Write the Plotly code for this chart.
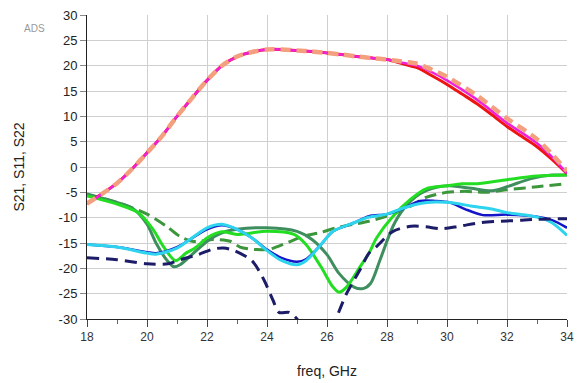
import plotly.graph_objects as go

# ---- data ----
s21_x = [18, 18.5, 19, 19.5, 20, 20.5, 21, 21.5, 22, 22.5, 23, 23.5, 24, 24.5, 25, 25.5, 26, 26.5, 27, 27.5, 28]
s21_base = [-7.2, -5.3, -3.2, -0.4, 2.8, 6.1, 10.0, 13.6, 17.1, 20.0, 21.8, 22.7, 23.2, 23.2, 23.0, 22.8, 22.5, 22.2, 21.8, 21.5, 21.2]

red_tail_x = [28.5, 29, 29.5, 30, 30.5, 31, 31.5, 32, 32.5, 33, 33.5, 34]
red_tail_y = [20.4, 19.6, 18.0, 16.3, 14.4, 12.5, 10.3, 8.0, 6.0, 4.0, 1.5, -1.3]
mag_tail_x = [28.5, 29, 29.5, 30, 31, 32, 33, 33.5, 34]
mag_tail_y = [20.6, 20.0, 18.7, 17.1, 13.3, 8.7, 4.7, 2.0, -1.3]
sal_tail_x = [28.5, 29, 29.5, 30, 31, 32, 33, 33.5, 34]
sal_tail_y = [20.8, 20.4, 19.2, 17.8, 14.1, 9.6, 5.5, 2.5, -0.8]

blue_x = [18, 19, 20, 20.3, 21, 22, 22.5, 23, 23.5, 24, 24.5, 25, 25.3, 25.8, 26.2, 26.9, 27.4, 28, 28.5, 29.1, 29.6, 30.1, 30.6, 31.2, 32, 33, 33.5, 34]
blue_y = [-15.3, -15.8, -16.8, -17.0, -15.8, -12.3, -11.5, -12.3, -14.0, -16.3, -18.0, -18.7, -18.2, -15.3, -12.7, -11.0, -9.7, -9.3, -8.3, -6.7, -6.7, -7.0, -8.3, -9.5, -9.4, -9.8, -10.5, -12.0]

cyan_x = [18, 19, 20, 20.3, 21, 22, 22.5, 23, 23.5, 24, 24.5, 25, 25.3, 25.8, 26.2, 26.9, 27.4, 28, 28.5, 29.1, 29.6, 30.1, 30.8, 31.5, 32, 33, 33.5, 34]
cyan_y = [-15.3, -15.8, -17.0, -17.2, -16.0, -12.0, -11.3, -12.3, -14.0, -16.5, -18.5, -19.3, -18.5, -15.3, -12.7, -11.0, -9.9, -9.3, -8.2, -7.2, -6.9, -7.0, -7.7, -8.3, -9.0, -9.9, -11.0, -13.5]

navy_x = [18, 19, 20, 20.7, 21.1, 21.7, 22.2, 22.55, 22.9, 23.5, 23.9, 24.2, 24.4, 24.75, 25.0, 25.3, 25.8, 26.1, 26.3, 26.65, 27.1, 27.4, 27.65, 28.2, 28.8, 29.3, 29.8, 30.4, 31.1, 31.8, 32.5, 33, 34]
navy_y = [-17.9, -18.3, -19.1, -19.1, -18.3, -17.3, -16.2, -16.0, -16.5, -18.5, -22.3, -26.3, -28.7, -28.7, -30.0, -33.0, -35.0, -33.0, -30.0, -25.0, -20.3, -17.0, -15.7, -12.7, -11.7, -11.8, -12.2, -11.7, -11.0, -10.7, -10.5, -10.3, -10.2]

lime_x = [18, 19, 19.7, 20.2, 20.55, 20.95, 21.3, 21.6, 22, 22.5, 23, 24, 24.9, 25.3, 25.8, 26.2, 26.4, 26.65, 27.1, 27.4, 27.65, 28.2, 28.8, 29.3, 30, 30.5, 31, 32, 33, 34]
lime_y = [-5.7, -7.3, -9.0, -12.3, -15.7, -18.5, -17.0, -16.0, -14.0, -12.8, -13.3, -12.7, -13.3, -15.3, -19.7, -23.7, -24.7, -23.7, -19.7, -17.0, -14.0, -9.7, -6.3, -4.3, -3.7, -3.3, -3.3, -2.5, -1.8, -1.6]

sea_x = [18, 19, 19.55, 20, 20.3, 20.65, 20.9, 21.1, 21.55, 22, 22.5, 23, 24, 25, 25.5, 26, 26.4, 26.9, 27.2, 27.45, 27.77, 28.2, 28.55, 29.1, 29.65, 30.1, 30.8, 31.5, 32, 32.8, 33.5, 34]
sea_y = [-5.3, -7.0, -8.3, -11.3, -15.0, -18.3, -19.7, -19.3, -17.0, -14.7, -13.0, -12.3, -12.0, -12.7, -14.3, -17.3, -21.0, -23.7, -24.0, -23.0, -18.3, -11.7, -8.3, -5.3, -4.0, -3.7, -4.2, -4.7, -3.9, -2.3, -1.6, -1.6]

dgreen_x = [18, 19, 20, 20.65, 21.1, 21.55, 22.2, 22.8, 23.1, 23.65, 24.1, 24.65, 25.2, 25.8, 26.3, 26.9, 27.4, 27.65, 28.2, 28.8, 29.3, 30, 30.6, 31.3, 32, 33, 34]
dgreen_y = [-5.5, -7.0, -9.3, -11.7, -13.7, -14.7, -14.3, -14.7, -15.8, -16.3, -16.2, -15.0, -13.7, -12.9, -12.0, -11.3, -10.7, -10.3, -9.3, -7.7, -6.0, -5.0, -4.8, -5.0, -4.5, -3.9, -3.3]

y_ticks = [30, 25, 20, 15, 10, 5, 0, -5, -10, -15, -20, -25, -30]
x_ticks = [18, 20, 22, 24, 26, 28, 30, 32, 34]

# ---- figure ----
fig = go.Figure()

def add(x, y, color, width, dash="solid"):
    fig.add_trace(go.Scatter(x=x, y=y, mode="lines",
                             line=dict(color=color, width=width, dash=dash, shape="spline", smoothing=0.8),
                             hoverinfo="skip", showlegend=False))

# lower curves
add(dgreen_x, dgreen_y, "#3C963C", 3, "12px,6px")
add(sea_x, sea_y, "#3E8E5E", 3)
add(lime_x, lime_y, "#22DD22", 3)
add(blue_x, blue_y, "#1414C8", 2.5)
add(cyan_x, cyan_y, "#2ED3EE", 3)
add(navy_x, navy_y, "#1C1C68", 3, "12px,7px")

# S21 curves
add(s21_x + red_tail_x, s21_base + red_tail_y, "#EE1414", 3)
add(s21_x + mag_tail_x, s21_base + mag_tail_y, "#F020D8", 2.5)
add(s21_x + sal_tail_x, s21_base + sal_tail_y, "#F4A07E", 4.5, "10px,6px")

fig.update_layout(
    width=587, height=383,
    margin=dict(l=87, r=20, t=15, b=64),
    paper_bgcolor="white", plot_bgcolor="white",
    font=dict(family="Liberation Sans, Arial, sans-serif", color="#222"),
)

fig.update_xaxes(
    range=[18, 34], tickvals=x_ticks, ticktext=[str(v) for v in x_ticks],
    showgrid=True, gridcolor="#CFCFCF", gridwidth=1,
    showline=True, linecolor="#222", linewidth=1,
    ticks="outside", ticklen=7, tickcolor="#444",
    minor=dict(dtick=1, tick0=19, ticks="outside", ticklen=4, tickcolor="#666", showgrid=False),
    tickfont=dict(size=12, color="#333"),
    title=dict(text="freq, GHz", font=dict(size=14, color="#222"), standoff=22),
    automargin=False,
    zeroline=False,
)
fig.update_yaxes(
    range=[-30, 30], tickvals=y_ticks, ticktext=[str(v) for v in y_ticks],
    showgrid=True, gridcolor="#CFCFCF", gridwidth=1,
    showline=True, linecolor="#222", linewidth=1,
    ticks="outside", ticklen=6, tickcolor="#888",
    tickfont=dict(size=13, color="#222"),
    title=dict(text="S21, S11, S22", font=dict(size=14, color="#222"), standoff=30),
    automargin=False,
    zeroline=False,
)

fig.add_annotation(text="ADS", xref="paper", yref="paper", x=-0.135, y=0.955,
                   xanchor="left", yanchor="middle", showarrow=False,
                   font=dict(size=10, color="#9A9A9A"))

fig.write_html("out.html")
